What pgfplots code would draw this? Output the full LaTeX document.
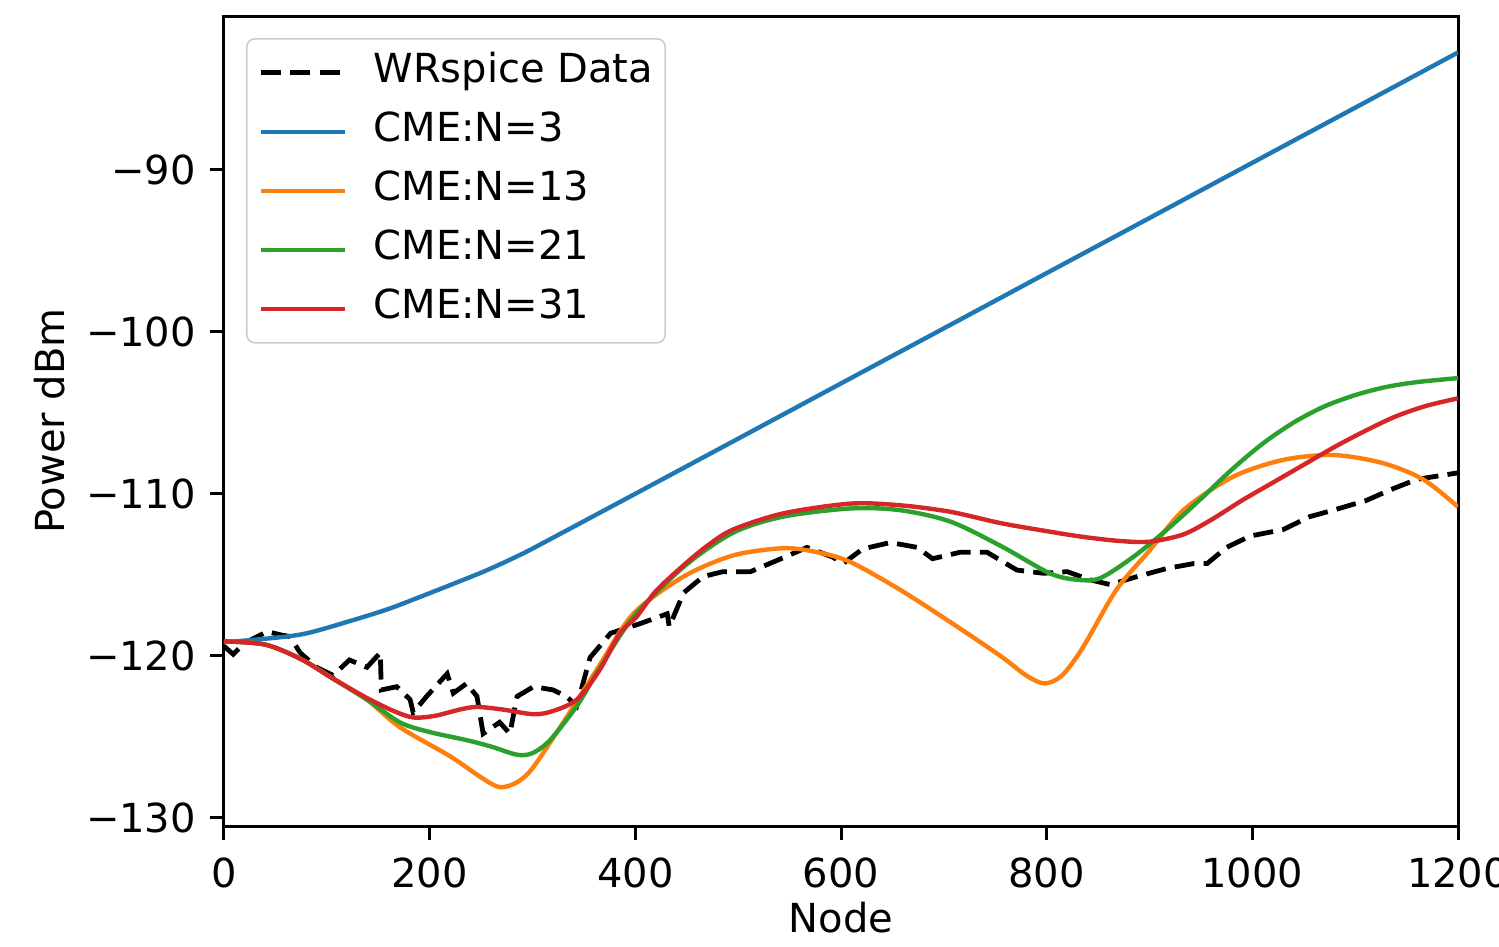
\documentclass[border=0pt]{standalone}
\usepackage{pgfplots}
\pgfplotsset{compat=1.18}
\usepackage{fontspec}
\setmainfont{DejaVu Sans}
\definecolor{tabblue}{HTML}{1F77B4}
\definecolor{taborange}{HTML}{FF7F0E}
\definecolor{tabgreen}{HTML}{2CA02C}
\definecolor{tabred}{HTML}{D62728}
\begin{document}
\begin{tikzpicture}
\begin{axis}[
  scale only axis,
  width=308.5pt, height=202.5pt,
  xmin=0, xmax=1200, ymin=-130.5, ymax=-80.5,
  xtick={0,200,400,600,800,1000,1200},
  xticklabels={0,200,400,600,800,1000,1200},
  ytick={-130,-120,-110,-100,-90},
  yticklabels={−130,−120,−110,−100,−90},
  tick pos=left,
  tick align=outside,
  major tick length=3.5pt,
  tick style={line width=0.75pt, black},
  axis line style={line width=0.75pt},
  ticklabel style={font=\fontsize{10}{12}\selectfont},
  xticklabel style={yshift=-1pt},
  xlabel={Node},
  ylabel={Power dBm},
  label style={font=\fontsize{10}{12}\selectfont},
  xlabel style={at={(rel axis cs:0.5,0)}, anchor=center, yshift=-23pt},
  ylabel style={at={(rel axis cs:0,0.5)}, anchor=center, yshift=43.5pt},
  legend cell align=left,
  legend image code/.code={\draw[#1] (0pt,0pt) -- (21pt,0pt);},
  legend style={at={(0,1)}, anchor=north west, xshift=5.5pt, yshift=-5.5pt,
    font=\fontsize{10}{12}\selectfont,
    draw=black!20, rounded corners=2pt, fill=white, fill opacity=0.8, text opacity=1, draw opacity=1,
    inner xsep=3pt, inner ysep=3.75pt, row sep=5.25pt, column sep=6.5pt,
    nodes={inner sep=0pt, text height=7.2pt, text depth=2.3pt}},
]
\coordinate (SW) at (rel axis cs:0,0);
\coordinate (NE) at (rel axis cs:1,1);
% WRspice data
\addplot[black, line width=1.2pt, dash pattern=on 5pt off 2.3pt] coordinates {
(0,-119.4) (9,-119.9) (20,-119.2) (42,-118.5) (55,-118.7) (64,-118.8) (74,-119.8) (90,-120.7) (106,-121.2) (122,-120.25) (139,-120.7) (152,-119.8) (153,-122.1) (168,-121.9) (181,-122.7) (184,-123.5) (197,-122.5) (217,-121.1) (223,-122.3) (236,-121.7) (246,-122.5) (252,-124.8) (268,-124.1) (278,-124.8) (285,-122.5) (301,-121.9) (320,-122.1) (333,-122.5) (343,-123.1) (356,-120.1) (376,-118.6) (405,-118.0) (431,-117.4) (433,-118.2) (447,-116.1) (466,-115.1) (485,-114.8) (512,-114.8) (538,-114.1) (567,-113.3) (592,-113.9) (602,-114.3) (621,-113.4) (648,-113.0) (674,-113.3) (689,-114.0) (716,-113.6) (742,-113.6) (771,-114.7) (797,-114.9) (820,-114.8) (842,-115.3) (862,-115.6) (888,-115.1) (917,-114.6) (943,-114.3) (956,-114.3) (975,-113.3) (998,-112.6) (1030,-112.2) (1056,-111.4) (1079,-111.0) (1111,-110.4) (1134,-109.75) (1160,-109.1) (1200,-108.7)
};
\addlegendentry{WRspice Data}
% N=3
\addplot[tabblue, line width=1.1pt, smooth] coordinates {
(0,-119.15) (30,-119.0) (77,-118.65) (125,-117.8) (160,-117.1) (191,-116.35) (225,-115.5) (256,-114.7) (290,-113.7) (320,-112.7) (385,-110.5) (500,-106.59) (600,-103.18) (700,-99.78) (800,-96.37) (900,-92.97) (1000,-89.56) (1100,-86.16) (1200,-82.75)
};
\addlegendentry{CME:N=3}
% N=13
\addplot[taborange, line width=1.1pt, smooth] coordinates {
(0,-119.1) (40,-119.3) (75,-120.2) (106,-121.4) (139,-122.7) (171,-124.4) (220,-126.2) (250,-127.5) (268,-128.1) (285,-127.8) (301,-126.85) (333,-123.8) (365,-120.6) (398,-117.4) (447,-115.1) (495,-113.8) (544,-113.35) (577,-113.6) (609,-114.2) (657,-115.9) (706,-117.9) (755,-120.0) (780,-121.2) (798,-121.7) (815,-121.2) (835,-119.5) (868,-115.9) (900,-113.5) (933,-111.0) (981,-108.95) (1030,-107.9) (1079,-107.6) (1127,-108.1) (1166,-109.1) (1200,-110.8)
};
\addlegendentry{CME:N=13}
% N=21
\addplot[tabgreen, line width=1.1pt, smooth] coordinates {
(0,-119.1) (40,-119.3) (75,-120.2) (106,-121.4) (139,-122.7) (171,-124.1) (200,-124.7) (236,-125.2) (260,-125.6) (285,-126.1) (300,-126.0) (317,-125.2) (343,-123.1) (365,-120.8) (398,-117.6) (447,-114.5) (495,-112.4) (544,-111.4) (609,-110.9) (657,-111.0) (706,-111.7) (755,-113.2) (803,-114.9) (830,-115.3) (852,-115.2) (884,-113.9) (917,-112.2) (950,-110.3) (980,-108.5) (1010,-106.9) (1040,-105.6) (1070,-104.6) (1100,-103.9) (1130,-103.4) (1160,-103.1) (1200,-102.85)
};
\addlegendentry{CME:N=21}
% N=31
\addplot[tabred, line width=1.1pt, smooth] coordinates {
(0,-119.1) (40,-119.3) (75,-120.2) (106,-121.4) (139,-122.6) (165,-123.4) (184,-123.8) (205,-123.7) (230,-123.3) (246,-123.15) (270,-123.3) (301,-123.6) (320,-123.4) (343,-122.7) (365,-120.9) (385,-118.6) (401,-117.6) (420,-116.0) (447,-114.4) (470,-113.2) (495,-112.2) (544,-111.2) (609,-110.6) (657,-110.7) (706,-111.1) (755,-111.8) (800,-112.3) (835,-112.65) (870,-112.9) (900,-112.95) (933,-112.5) (960,-111.6) (990,-110.4) (1020,-109.3) (1050,-108.2) (1080,-107.1) (1110,-106.1) (1140,-105.2) (1170,-104.55) (1200,-104.1)
};
\addlegendentry{CME:N=31}
\end{axis}
\pgfresetboundingbox
\useasboundingbox ([xshift=-56pt,yshift=-30pt]SW) rectangle ([xshift=10.25pt,yshift=4pt]NE);
\end{tikzpicture}
\end{document}
